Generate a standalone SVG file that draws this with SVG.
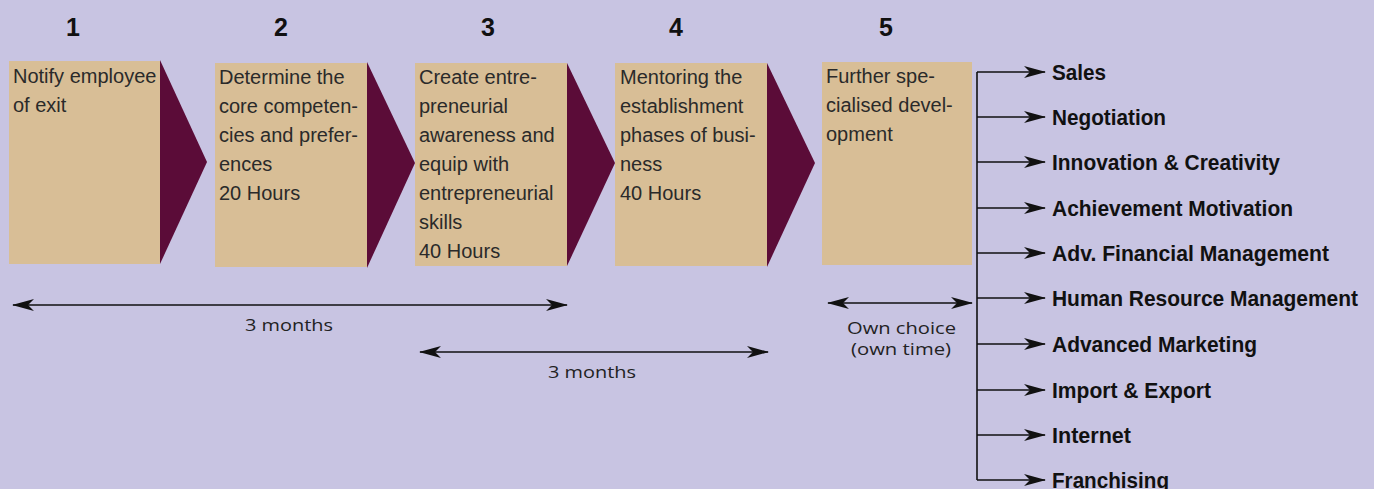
<svg xmlns="http://www.w3.org/2000/svg" width="1374" height="489" viewBox="0 0 1374 489">
<defs>
<marker id="ah" viewBox="0 0 22 12" refX="21" refY="6" markerWidth="22" markerHeight="12" markerUnits="userSpaceOnUse" orient="auto-start-reverse">
<path d="M0,0 L22,6 L0,12 L6,6 z" fill="#111"/>
</marker>
<style>
.box{fill:#d8be96}
.chev{fill:#5b0c38}
.num{font-family:"Liberation Sans",Arial,sans-serif;font-weight:bold;font-size:25px;fill:#111;text-anchor:middle}
.bt{font-family:"Liberation Sans",Arial,sans-serif;font-size:20px;fill:#2a2a2a}
.lbl{font-family:"Liberation Sans",Arial,sans-serif;font-weight:bold;font-size:22px;fill:#111}
.dim{font-family:"Open Sans","DejaVu Sans",sans-serif;font-size:17px;fill:#222}
.ln{stroke:#111;stroke-width:1.6;fill:none}
</style>
</defs>
<rect width="1374" height="489" fill="#c8c4e2"/>

<g id="step1">
<text class="num" x="73" y="36">1</text>
<rect class="box" x="9" y="61" width="151" height="203"/>
<polygon class="chev" points="160,60 207,162 160,264"/>
<text class="bt" x="13" y="83">Notify employee</text>
<text class="bt" x="13" y="112">of exit</text>
</g>

<g id="step2">
<text class="num" x="281" y="36">2</text>
<rect class="box" x="215" y="63" width="152" height="204"/>
<polygon class="chev" points="367,62 415,163 367,268"/>
<text class="bt" x="219" y="84">Determine the</text>
<text class="bt" x="219" y="113">core competen-</text>
<text class="bt" x="219" y="142">cies and prefer-</text>
<text class="bt" x="219" y="171">ences</text>
<text class="bt" x="219" y="200">20 Hours</text>
</g>

<g id="step3">
<text class="num" x="488" y="36">3</text>
<rect class="box" x="415" y="63" width="152" height="203"/>
<polygon class="chev" points="567,63 615,163 567,266"/>
<text class="bt" x="419" y="84">Create entre-</text>
<text class="bt" x="419" y="113">preneurial</text>
<text class="bt" x="419" y="142">awareness and</text>
<text class="bt" x="419" y="171">equip with</text>
<text class="bt" x="419" y="200">entrepreneurial</text>
<text class="bt" x="419" y="229">skills</text>
<text class="bt" x="419" y="258">40 Hours</text>
</g>

<g id="step4">
<text class="num" x="676" y="36">4</text>
<rect class="box" x="615" y="63" width="152" height="203"/>
<polygon class="chev" points="767,63 815,163 767,267"/>
<text class="bt" x="620" y="84">Mentoring the</text>
<text class="bt" x="620" y="113">establishment</text>
<text class="bt" x="620" y="142">phases of busi-</text>
<text class="bt" x="620" y="171">ness</text>
<text class="bt" x="620" y="200">40 Hours</text>
</g>

<g id="step5">
<text class="num" x="886" y="36">5</text>
<rect class="box" x="822" y="62" width="150" height="203"/>
<text class="bt" x="826" y="83">Further spe-</text>
<text class="bt" x="826" y="112">cialised devel-</text>
<text class="bt" x="826" y="141">opment</text>
</g>

<g id="options">
<text class="lbl" x="1052" y="80" textLength="54" lengthAdjust="spacingAndGlyphs">Sales</text>
<text class="lbl" x="1052" y="125" textLength="114" lengthAdjust="spacingAndGlyphs">Negotiation</text>
<text class="lbl" x="1052" y="170" textLength="228" lengthAdjust="spacingAndGlyphs">Innovation &amp; Creativity</text>
<text class="lbl" x="1052" y="216" textLength="241" lengthAdjust="spacingAndGlyphs">Achievement Motivation</text>
<text class="lbl" x="1052" y="261" textLength="277" lengthAdjust="spacingAndGlyphs">Adv. Financial Management</text>
<text class="lbl" x="1052" y="306" textLength="306" lengthAdjust="spacingAndGlyphs">Human Resource Management</text>
<text class="lbl" x="1052" y="352" textLength="205" lengthAdjust="spacingAndGlyphs">Advanced Marketing</text>
<text class="lbl" x="1052" y="398" textLength="159" lengthAdjust="spacingAndGlyphs">Import &amp; Export</text>
<text class="lbl" x="1052" y="443" textLength="79" lengthAdjust="spacingAndGlyphs">Internet</text>
<text class="lbl" x="1052" y="488" textLength="117" lengthAdjust="spacingAndGlyphs">Franchising</text>
</g>

<g id="dimension-labels">
<text class="dim" x="245" y="331" textLength="88" lengthAdjust="spacingAndGlyphs">3 months</text>
<text class="dim" x="548" y="378" textLength="88" lengthAdjust="spacingAndGlyphs">3 months</text>
<text class="dim" x="847" y="334" textLength="109" lengthAdjust="spacingAndGlyphs">Own choice</text>
<text class="dim" x="851" y="355" textLength="100" lengthAdjust="spacingAndGlyphs">(own time)</text>
</g>

<g id="connectors">
<line class="ln" x1="13" y1="305" x2="567" y2="305" marker-start="url(#ah)" marker-end="url(#ah)"/>
<line class="ln" x1="420" y1="352" x2="768" y2="352" marker-start="url(#ah)" marker-end="url(#ah)"/>
<line class="ln" x1="828" y1="303" x2="972" y2="303" marker-start="url(#ah)" marker-end="url(#ah)"/>
<line class="ln" x1="977" y1="72" x2="977" y2="480"/>
<line class="ln" x1="977" y1="72" x2="1045" y2="72" marker-end="url(#ah)"/>
<line class="ln" x1="977" y1="117" x2="1045" y2="117" marker-end="url(#ah)"/>
<line class="ln" x1="977" y1="162" x2="1045" y2="162" marker-end="url(#ah)"/>
<line class="ln" x1="977" y1="208" x2="1045" y2="208" marker-end="url(#ah)"/>
<line class="ln" x1="977" y1="253" x2="1045" y2="253" marker-end="url(#ah)"/>
<line class="ln" x1="977" y1="298" x2="1045" y2="298" marker-end="url(#ah)"/>
<line class="ln" x1="977" y1="344" x2="1045" y2="344" marker-end="url(#ah)"/>
<line class="ln" x1="977" y1="390" x2="1045" y2="390" marker-end="url(#ah)"/>
<line class="ln" x1="977" y1="435" x2="1045" y2="435" marker-end="url(#ah)"/>
<line class="ln" x1="977" y1="480" x2="1045" y2="480" marker-end="url(#ah)"/>
</g>
</svg>
